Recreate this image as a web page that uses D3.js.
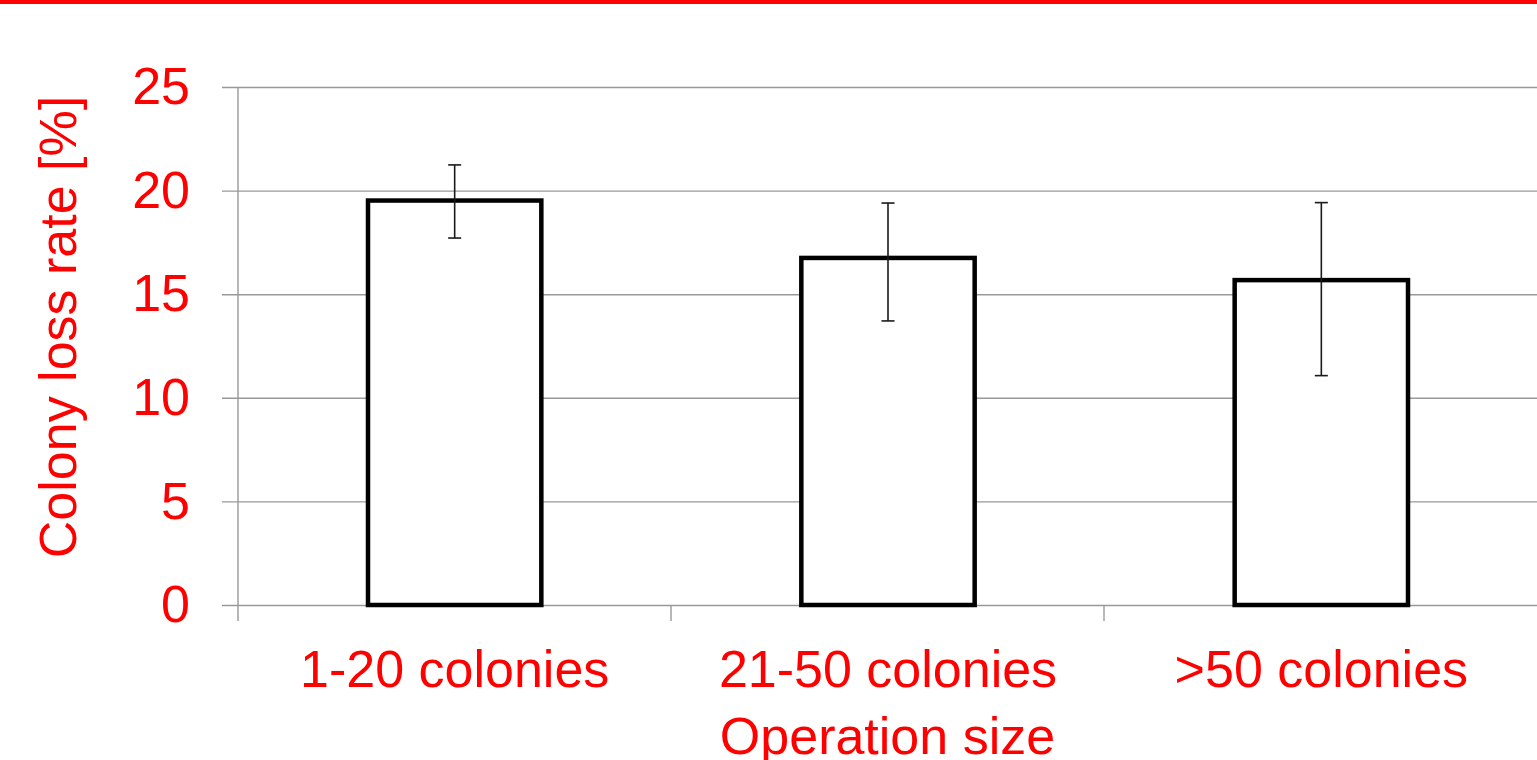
<!DOCTYPE html>
<html><head><meta charset="utf-8">
<script src="https://cdn.jsdelivr.net/npm/d3@7"></script>
<style>html,body{margin:0;padding:0;background:#fff;overflow:hidden}</style>
</head><body>
<svg id="c" width="1537" height="760"></svg>
<script>
const categories = ["1-20 colonies", "21-50 colonies", ">50 colonies"];
const values = [19.52, 16.75, 15.68];
const errUpper = [21.24, 19.40, 19.42];
const errLower = [17.71, 13.71, 11.07];
const yTicks = [0, 5, 10, 15, 20, 25];
const yTitle = "Colony loss rate [%]";
const xTitle = "Operation size";

const svg = d3.select("#c");
const W = 1537, H = 760;
const m = {left: 238, right: 0, top: 87, bottom: 155};
const red = "#ff0000", grid = "#999999";
const font = "'Liberation Sans', Arial, sans-serif";
const fs = "52px";

svg.append("rect").attr("x", 0).attr("y", 0).attr("width", W).attr("height", 4).attr("fill", red);

const x = d3.scaleBand().domain(categories).range([m.left, W - m.right + 1]).paddingInner(0.6).paddingOuter(0.3);
const y = d3.scaleLinear().domain([0, 25]).range([H - m.bottom, m.top]);

// gridlines + y axis
const ya = svg.append("g").attr("transform", `translate(${m.left},0)`)
  .call(d3.axisLeft(y).tickValues(yTicks).tickSize(-(W - m.left)).tickSizeOuter(0).tickPadding(48));
ya.select(".domain").remove();
ya.selectAll(".tick line").attr("stroke", grid).attr("stroke-width", 1.4).attr("x1", -16);
ya.selectAll(".tick text").attr("fill", red).style("font-family", font).style("font-size", fs);

// y axis line
svg.append("line").attr("x1", m.left).attr("x2", m.left).attr("y1", y(25)).attr("y2", y(0) + 16)
  .attr("stroke", grid).attr("stroke-width", 1.4);

// category boundary ticks
const bounds = categories.map((c, i) => m.left + i * (W - m.left) / categories.length).slice(1);
svg.selectAll(".xt").data(bounds).enter().append("line")
  .attr("x1", d => d).attr("x2", d => d).attr("y1", y(0)).attr("y2", y(0) + 16)
  .attr("stroke", grid).attr("stroke-width", 1.4);

const xa = svg.append("g").attr("transform", `translate(0,${y(0)})`)
  .call(d3.axisBottom(x).tickSize(0).tickPadding(45));
xa.select(".domain").remove();
xa.selectAll(".tick text").attr("fill", red).style("font-family", font).style("font-size", fs);

// bars
svg.selectAll(".bar").data(values).enter().append("rect")
  .attr("x", (d, i) => x(categories[i]))
  .attr("y", d => y(d))
  .attr("width", x.bandwidth())
  .attr("height", d => y(0) - y(d))
  .attr("fill", "#fff").attr("stroke", "#000").attr("stroke-width", 4.5);

// error bars
const eb = svg.append("g").attr("stroke", "#1a1a1a").attr("stroke-width", 1.6);
categories.forEach((c, i) => {
  const cx = x(c) + x.bandwidth() / 2;
  eb.append("line").attr("x1", cx).attr("x2", cx).attr("y1", y(errUpper[i])).attr("y2", y(errLower[i]));
  eb.append("line").attr("x1", cx - 6.5).attr("x2", cx + 6.5).attr("y1", y(errUpper[i])).attr("y2", y(errUpper[i]));
  eb.append("line").attr("x1", cx - 6.5).attr("x2", cx + 6.5).attr("y1", y(errLower[i])).attr("y2", y(errLower[i]));
});

// titles
svg.append("text").attr("transform", `translate(76,${(y(0)+y(25))/2 - 19}) rotate(-90)`)
  .attr("text-anchor", "middle").attr("fill", red).style("font-family", font).style("font-size", fs)
  .text(yTitle);
svg.append("text").attr("x", (m.left + W) / 2).attr("y", 754)
  .attr("text-anchor", "middle").attr("fill", red).style("font-family", font).style("font-size", fs)
  .text(xTitle);
</script>
</body></html>
